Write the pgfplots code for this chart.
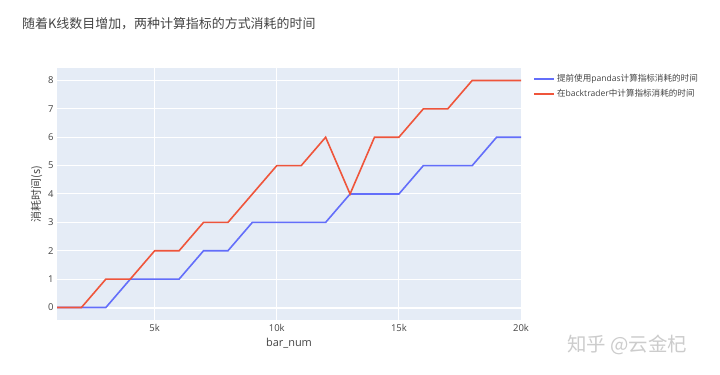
\documentclass[border=0pt]{standalone}
\usepackage{pgfplots}
\pgfplotsset{compat=1.18}
\usepackage{fontspec}
\setmainfont{Open Sans}
\newfontfamily\cjk{Noto Sans CJK SC}
\definecolor{pblue}{HTML}{636EFA}
\definecolor{pred}{HTML}{EF553B}
\definecolor{pbg}{HTML}{E5ECF6}
\definecolor{ptxt}{HTML}{444444}
\begin{document}
\begin{tikzpicture}[x=1bp,y=1bp]
\path[use as bounding box, fill=white] (0,0) rectangle (720,374);
\node[anchor=west, font=\cjk\fontsize{13}{15}\selectfont, text=ptxt, inner sep=0pt] at (22,350) {随着K线数目增加，两种计算指标的方式消耗的时间};
\node[anchor=center, font=\cjk\fontsize{19.5}{21}\selectfont, text=black!20, inner sep=0pt] at (627,29) {知乎 @云金杞};
\begin{axis}[at={(57bp,54bp)}, anchor=south west, scale only axis,
  width=464bp, height=252bp,
  xmin=1000, xmax=20000, ymin=-0.44, ymax=8.44,
  scaled x ticks=false,
  axis background/.style={fill=pbg},
  axis line style={draw=none}, tick style={draw=none},
  grid=major, grid style={white, line width=1bp},
  xtick={5000,10000,15000,20000}, xticklabels={5k,10k,15k,20k},
  ytick={0,1,2,3,4,5,6,7,8},
  extra y ticks={0}, extra y tick labels={},
  extra y tick style={grid style={white, line width=2bp}},
  /pgf/number format/assume math mode=true,
  ticklabel style={font=\fontsize{9.5}{11}\selectfont, text=ptxt},
  xticklabel style={yshift=-1bp},
  xlabel={bar\_num}, xlabel style={font=\fontsize{11}{13}\selectfont, text=ptxt},
  ylabel={\cjk 消耗时间(s)}, ylabel style={font=\fontsize{11}{13}\selectfont, text=ptxt, yshift=-1bp},
  legend style={at={(1.02,0.99)}, anchor=north west, draw=none, fill=none,
    font=\fontsize{8.6}{10}\selectfont, text=ptxt, row sep=2bp},
  legend cell align=left,
  legend image code/.code={\draw[#1] (0bp,0bp) -- (20bp,0bp);},
]
\addplot[pblue, line width=1.6bp, sharp plot] coordinates {
(1000,0) (2000,0) (3000,0) (4000,1) (5000,1) (6000,1) (7000,2) (8000,2) (9000,3) (10000,3)
(11000,3) (12000,3) (13000,4) (14000,4) (15000,4) (16000,5) (17000,5) (18000,5) (19000,6) (20000,6)};
\addlegendentry{{\cjk 提前使用}pandas{\cjk 计算指标消耗的时间}}
\addplot[pred, line width=1.6bp, sharp plot] coordinates {
(1000,0) (2000,0) (3000,1) (4000,1) (5000,2) (6000,2) (7000,3) (8000,3) (9000,4) (10000,5)
(11000,5) (12000,6) (13000,4) (14000,6) (15000,6) (16000,7) (17000,7) (18000,8) (19000,8) (20000,8)};
\addlegendentry{{\cjk 在}backtrader{\cjk 中计算指标消耗的时间}}
\end{axis}
\end{tikzpicture}
\end{document}
